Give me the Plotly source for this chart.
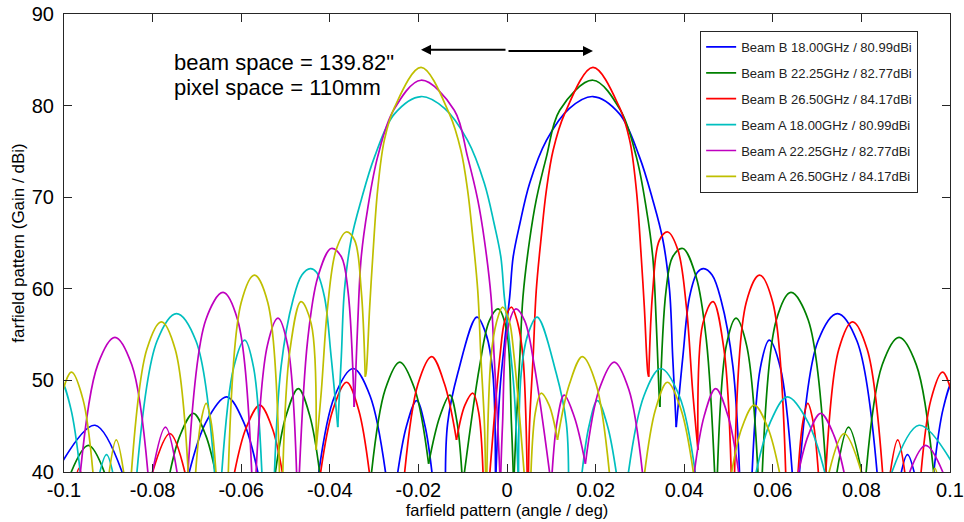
import plotly.graph_objects as go

# Beam geometry quoted on the chart
BEAM_SPACE_ARCSEC = 139.82
PIXEL_SPACE_MM = 110

FREQ_GHZ = [18.00, 22.25, 26.50]
PEAK_DBI = [80.99, 82.77, 84.17]

X_TICKS = [-0.1, -0.08, -0.06, -0.04, -0.02, 0, 0.02, 0.04, 0.06, 0.08, 0.1]
X_TICK_LABELS = ["-0.1", "-0.08", "-0.06", "-0.04", "-0.02", "0", "0.02", "0.04", "0.06", "0.08", "0.1"]
Y_TICKS = [40, 50, 60, 70, 80, 90]

# Each series is a list of lobes; a lobe is a run of (angle, gain) samples
# from one null (or the 40 dBi floor) to the next.

# Beam B, 18.00 GHz
B18_X = [
    [-0.1005, -0.0930, -0.0858],
    [-0.0725, -0.0680, -0.0633, -0.0594, -0.0556],
    [-0.0429, -0.0389, -0.0347, -0.0309, -0.0270],
    [-0.0251, -0.0227, -0.0204, -0.0185, -0.0166],
    [-0.0139, -0.0134, -0.0111, -0.0068, -0.0047, -0.0032, -0.0026],
    [-0.0026, -0.0016, -0.0005, 0.0006, 0.0014, 0.0029, 0.0051, 0.0089, 0.0141, 0.0194,
     0.0254, 0.0299, 0.0329, 0.0352, 0.0367, 0.0374, 0.0382],
    [0.0382, 0.0397, 0.0412, 0.0430, 0.0444, 0.0463, 0.0483, 0.0510, 0.0526],
    [0.0552, 0.0572, 0.0592, 0.0617, 0.0646],
    [0.0658, 0.0702, 0.0746, 0.0790, 0.0838],
    [0.0884, 0.0904, 0.0926],
    [0.0960, 0.0985, 0.1010, 0.1040],
]
B18_Y = [
    [41.0, 45.1, 38.5],
    [38.5, 45.4, 48.2, 45.4, 38.5],
    [38.5, 48.3, 51.3, 48.3, 38.5],
    [38.5, 45.0, 47.8, 45.0, 38.5],
    [38.5, 45.3, 50.8, 56.9, 55.0, 50.8, 38.5],
    [38.5, 48.9, 54.4, 59.1, 63.5, 67.1, 71.5, 76.2, 79.7, 80.99,
     79.1, 74.4, 69.7, 65.3, 59.8, 52.6, 44.9],
    [44.9, 52.6, 59.1, 61.8, 62.2, 61.5, 58.8, 51.5, 38.5],
    [38.5, 51.4, 54.4, 51.4, 38.5],
    [38.5, 54.3, 57.3, 54.3, 38.5],
    [38.5, 41.9, 38.5],
    [38.5, 47.0, 50.3, 51.0],
]

# Beam B, 22.25 GHz
B22_X = [
    [-0.0996, -0.0945, -0.0898],
    [-0.0767, -0.0738, -0.0708, -0.0680, -0.0652],
    [-0.0527, -0.0499, -0.0471, -0.0445, -0.0419],
    [-0.0309, -0.0275, -0.0242, -0.0208, -0.0177],
    [-0.0177, -0.0152, -0.0129, -0.0113, -0.0100],
    [-0.0100, -0.0062, -0.0040, -0.0020, -0.0001, 0.0010, 0.0015],
    [0.0015, 0.0021, 0.0029, 0.0036, 0.0051, 0.0066, 0.0089, 0.0119, 0.0194,
     0.0256, 0.0292, 0.0314, 0.0329, 0.0337, 0.0343, 0.0345],
    [0.0345, 0.0359, 0.0374, 0.0397, 0.0427, 0.0450, 0.0470],
    [0.0474, 0.0495, 0.0517, 0.0541, 0.0568],
    [0.0575, 0.0608, 0.0641, 0.0680, 0.0722],
    [0.0740, 0.0771, 0.0806],
    [0.0808, 0.0847, 0.0885, 0.0924, 0.0966],
]
B22_Y = [
    [38.5, 42.9, 38.5],
    [38.5, 44.0, 46.4, 44.0, 38.5],
    [38.5, 46.1, 49.1, 46.1, 38.5],
    [38.5, 49.0, 52.0, 49.0, 40.9],
    [40.9, 46.0, 48.4, 45.5, 38.5],
    [38.5, 51.5, 56.5, 57.8, 55.5, 45.3, 38.5],
    [38.5, 45.3, 52.6, 59.1, 65.3, 69.7, 74.4, 79.5, 82.77,
     79.5, 74.4, 68.9, 63.5, 56.2, 48.9, 47.1],
    [47.1, 59.8, 63.5, 64.4, 61.3, 54.4, 38.5],
    [38.5, 53.8, 56.8, 53.8, 38.5],
    [38.5, 56.6, 59.6, 56.6, 38.5],
    [38.5, 44.9, 38.5],
    [38.5, 51.7, 54.7, 51.7, 38.5],
]

# Beam B, 26.50 GHz
B26_X = [
    [-0.0976, -0.0966, -0.0956],
    [-0.0809, -0.0761, -0.0720],
    [-0.0621, -0.0589, -0.0558, -0.0530, -0.0502],
    [-0.0425, -0.0393, -0.0362, -0.0335, -0.0307],
    [-0.0234, -0.0201, -0.0170, -0.0141, -0.0114],
    [-0.0114, -0.0095, -0.0077, -0.0064, -0.0053],
    [-0.0041, -0.0016, -0.0005, 0.0010, 0.0024, 0.0036, 0.0046],
    [0.0048, 0.0051, 0.0059, 0.0066, 0.0078, 0.0089, 0.0104, 0.0130, 0.0194,
     0.0254, 0.0277, 0.0292, 0.0303, 0.0310, 0.0318, 0.0320],
    [0.0320, 0.0329, 0.0344, 0.0363, 0.0386, 0.0405, 0.0419, 0.0431],
    [0.0431, 0.0442, 0.0465, 0.0490, 0.0507],
    [0.0513, 0.0540, 0.0570, 0.0600, 0.0630],
    [0.0655, 0.0668, 0.0679, 0.0691, 0.0705],
    [0.0718, 0.0749, 0.0780, 0.0813, 0.0850],
    [0.0861, 0.0882, 0.0902],
    [0.0932, 0.0957, 0.0983, 0.1008, 0.1034],
]
B26_Y = [
    [38.5, 40.4, 38.5],
    [38.5, 44.2, 38.5],
    [38.5, 44.8, 47.3, 44.8, 38.5],
    [38.5, 46.8, 49.8, 46.8, 38.5],
    [38.5, 49.6, 52.6, 49.6, 43.5],
    [43.5, 47.3, 48.6, 46.5, 38.5],
    [38.5, 52.6, 56.5, 58.0, 56.3, 52.6, 38.5],
    [38.5, 45.3, 52.6, 59.8, 66.0, 70.8, 75.1, 79.1, 84.17,
     79.8, 76.2, 70.8, 63.5, 58.0, 50.8, 50.4],
    [50.4, 59.8, 65.3, 66.2, 64.2, 58.0, 48.9, 42.4],
    [42.4, 56.2, 58.6, 53.3, 38.5],
    [38.5, 58.5, 61.5, 58.5, 38.5],
    [38.5, 45.5, 47.5, 45.5, 38.5],
    [38.5, 53.4, 56.4, 53.4, 38.5],
    [38.5, 43.5, 38.5],
    [38.5, 47.9, 50.9, 47.9, 38.5],
]

# Beam A, 18.00 GHz
A18_X = [
    [-0.1040, -0.1010, -0.0985, -0.0960],
    [-0.0926, -0.0904, -0.0884],
    [-0.0838, -0.0790, -0.0746, -0.0702, -0.0658],
    [-0.0646, -0.0617, -0.0592, -0.0572, -0.0552],
    [-0.0526, -0.0510, -0.0483, -0.0463, -0.0444, -0.0430, -0.0412, -0.0397, -0.0382],
    [-0.0382, -0.0374, -0.0367, -0.0352, -0.0329, -0.0299, -0.0254, -0.0194, -0.0141,
     -0.0089, -0.0051, -0.0029, -0.0014, -0.0006, 0.0005, 0.0016, 0.0026],
    [0.0026, 0.0032, 0.0047, 0.0068, 0.0111, 0.0134, 0.0139],
    [0.0166, 0.0185, 0.0204, 0.0227, 0.0251],
    [0.0270, 0.0309, 0.0347, 0.0389, 0.0429],
    [0.0556, 0.0594, 0.0633, 0.0680, 0.0725],
    [0.0858, 0.0930, 0.1005],
]
A18_Y = [
    [51.0, 50.3, 47.0, 38.5],
    [38.5, 41.9, 38.5],
    [38.5, 54.3, 57.3, 54.3, 38.5],
    [38.5, 51.4, 54.4, 51.4, 38.5],
    [38.5, 51.5, 58.8, 61.5, 62.2, 61.8, 59.1, 52.6, 44.9],
    [44.9, 52.6, 59.8, 65.3, 69.7, 74.4, 79.1, 80.99, 79.7,
     76.2, 71.5, 67.1, 63.5, 59.1, 54.4, 48.9, 38.5],
    [38.5, 50.8, 55.0, 56.9, 50.8, 45.3, 38.5],
    [38.5, 45.0, 47.8, 45.0, 38.5],
    [38.5, 48.3, 51.3, 48.3, 38.5],
    [38.5, 45.4, 48.2, 45.4, 38.5],
    [38.5, 45.1, 41.0],
]

# Beam A, 22.25 GHz
A22_X = [
    [-0.0966, -0.0924, -0.0885, -0.0847, -0.0808],
    [-0.0806, -0.0771, -0.0740],
    [-0.0722, -0.0680, -0.0641, -0.0608, -0.0575],
    [-0.0568, -0.0541, -0.0517, -0.0495, -0.0474],
    [-0.0470, -0.0450, -0.0427, -0.0397, -0.0374, -0.0359, -0.0345],
    [-0.0345, -0.0343, -0.0337, -0.0329, -0.0314, -0.0292, -0.0256, -0.0194,
     -0.0119, -0.0089, -0.0066, -0.0051, -0.0036, -0.0029, -0.0021, -0.0015],
    [-0.0015, -0.0010, 0.0001, 0.0020, 0.0040, 0.0062, 0.0100],
    [0.0100, 0.0113, 0.0129, 0.0152, 0.0177],
    [0.0177, 0.0208, 0.0242, 0.0275, 0.0309],
    [0.0419, 0.0445, 0.0471, 0.0499, 0.0527],
    [0.0652, 0.0680, 0.0708, 0.0738, 0.0767],
    [0.0898, 0.0945, 0.0996],
]
A22_Y = [
    [38.5, 51.7, 54.7, 51.7, 38.5],
    [38.5, 44.9, 38.5],
    [38.5, 56.6, 59.6, 56.6, 38.5],
    [38.5, 53.8, 56.8, 53.8, 38.5],
    [38.5, 54.4, 61.3, 64.4, 63.5, 59.8, 47.1],
    [47.1, 48.9, 56.2, 63.5, 68.9, 74.4, 79.5, 82.77,
     79.5, 74.4, 69.7, 65.3, 59.1, 52.6, 45.3, 38.5],
    [38.5, 45.3, 55.5, 57.8, 56.5, 51.5, 38.5],
    [38.5, 45.5, 48.4, 46.0, 40.9],
    [40.9, 49.0, 52.0, 49.0, 38.5],
    [38.5, 46.1, 49.1, 46.1, 38.5],
    [38.5, 44.0, 46.4, 44.0, 38.5],
    [38.5, 42.9, 38.5],
]

# Beam A, 26.50 GHz
A26_X = [
    [-0.1034, -0.1008, -0.0983, -0.0957, -0.0932],
    [-0.0902, -0.0882, -0.0861],
    [-0.0850, -0.0813, -0.0780, -0.0749, -0.0718],
    [-0.0705, -0.0691, -0.0679, -0.0668, -0.0655],
    [-0.0630, -0.0600, -0.0570, -0.0540, -0.0513],
    [-0.0507, -0.0490, -0.0465, -0.0442, -0.0431],
    [-0.0431, -0.0419, -0.0405, -0.0386, -0.0363, -0.0344, -0.0329, -0.0320],
    [-0.0320, -0.0318, -0.0310, -0.0303, -0.0292, -0.0277, -0.0254, -0.0194,
     -0.0130, -0.0104, -0.0089, -0.0078, -0.0066, -0.0059, -0.0051, -0.0048],
    [-0.0046, -0.0036, -0.0024, -0.0010, 0.0005, 0.0016, 0.0041],
    [0.0053, 0.0064, 0.0077, 0.0095, 0.0114],
    [0.0114, 0.0141, 0.0170, 0.0201, 0.0234],
    [0.0307, 0.0335, 0.0362, 0.0393, 0.0425],
    [0.0502, 0.0530, 0.0558, 0.0589, 0.0621],
    [0.0720, 0.0761, 0.0809],
    [0.0956, 0.0966, 0.0976],
]
A26_Y = [
    [38.5, 47.9, 50.9, 47.9, 38.5],
    [38.5, 43.5, 38.5],
    [38.5, 53.4, 56.4, 53.4, 38.5],
    [38.5, 45.5, 47.5, 45.5, 38.5],
    [38.5, 58.5, 61.5, 58.5, 38.5],
    [38.5, 53.3, 58.6, 56.2, 42.4],
    [42.4, 48.9, 58.0, 64.2, 66.2, 65.3, 59.8, 50.4],
    [50.4, 50.8, 58.0, 63.5, 70.8, 76.2, 79.8, 84.17,
     79.1, 75.1, 70.8, 66.0, 59.8, 52.6, 45.3, 38.5],
    [38.5, 52.6, 56.3, 58.0, 56.5, 52.6, 38.5],
    [38.5, 46.5, 48.6, 47.3, 43.5],
    [43.5, 49.6, 52.6, 49.6, 38.5],
    [38.5, 46.8, 49.8, 46.8, 38.5],
    [38.5, 44.8, 47.3, 44.8, 38.5],
    [38.5, 44.2, 38.5],
    [38.5, 40.4, 38.5],
]

SERIES = [
    ("B", 0, B18_X, B18_Y, "#0000FF"),
    ("B", 1, B22_X, B22_Y, "#008000"),
    ("B", 2, B26_X, B26_Y, "#FF0000"),
    ("A", 0, A18_X, A18_Y, "#00BFBF"),
    ("A", 1, A22_X, A22_Y, "#BF00BF"),
    ("A", 2, A26_X, A26_Y, "#BFBF00"),
]


def join_lobes(lobes):
    """Concatenate lobes into one trace, breaking the line between them."""
    out = []
    for lobe in lobes:
        out.extend(lobe)
        out.append(None)
    return out


FONT = "Liberation Sans, Arial, Helvetica, sans-serif"
AXIS_COLOR = "#262626"

fig = go.Figure()
for beam, k, xs, ys, color in SERIES:
    name = f"Beam {beam} {FREQ_GHZ[k]:.2f}GHz / {PEAK_DBI[k]:.2f}dBi"
    fig.add_trace(go.Scatter(
        x=join_lobes(xs), y=join_lobes(ys),
        mode="lines", name=name, legendgroup=name,
        line=dict(color=color, width=1.7, shape="spline", smoothing=1.0),
        connectgaps=False,
    ))

# Beam separation arrow: each beam sits half the quoted spacing off boresight
half_sep_deg = BEAM_SPACE_ARCSEC / 3600.0 / 2.0
arrow = dict(showarrow=True, text="", arrowhead=2, arrowsize=1, arrowwidth=2,
             arrowcolor="black", xref="x", yref="y", axref="x", ayref="y")
fig.add_annotation(x=-half_sep_deg, y=86.1, ax=0.0, ay=86.1, **arrow)
fig.add_annotation(x=half_sep_deg, y=85.95, ax=0.0, ay=85.95, **arrow)

fig.add_annotation(x=-0.0757, y=84.7, xref="x", yref="y", xanchor="left", yanchor="middle",
                   showarrow=False, text=f"beam space = {BEAM_SPACE_ARCSEC:.2f}\"",
                   font=dict(family=FONT, size=22, color="black"))
fig.add_annotation(x=-0.0757, y=81.95, xref="x", yref="y", xanchor="left", yanchor="middle",
                   showarrow=False, text=f"pixel space = {PIXEL_SPACE_MM}mm",
                   font=dict(family=FONT, size=22, color="black"))

axis_common = dict(
    showline=True, linecolor=AXIS_COLOR, linewidth=1, mirror="ticks",
    ticks="inside", ticklen=8, tickwidth=1, tickcolor=AXIS_COLOR,
    showgrid=False, zeroline=False,
    tickfont=dict(family=FONT, size=20, color="black"),
)

fig.update_xaxes(range=[-0.1, 0.1], tickvals=X_TICKS, ticktext=X_TICK_LABELS,
                 title=dict(text="farfield pattern (angle / deg)", standoff=2,
                            font=dict(family=FONT, size=16.5, color="black")),
                 **axis_common)
fig.update_yaxes(range=[40, 90], tickvals=Y_TICKS,
                 ticklabelstandoff=5,
                 title=dict(text="farfield pattern (Gain / dBi)", standoff=2,
                            font=dict(family=FONT, size=17, color="black")),
                 **axis_common)

fig.update_layout(
    template="none",
    width=964, height=522,
    margin=dict(l=64, r=14, t=14, b=50),
    paper_bgcolor="white", plot_bgcolor="white",
    showlegend=True,
    legend=dict(x=0.718, y=0.963, xanchor="left", yanchor="top",
                bgcolor="white", bordercolor=AXIS_COLOR, borderwidth=1,
                font=dict(family=FONT, size=13, color="#222222"),
                tracegroupgap=6, itemwidth=30),
)

fig.write_html("out.html")
